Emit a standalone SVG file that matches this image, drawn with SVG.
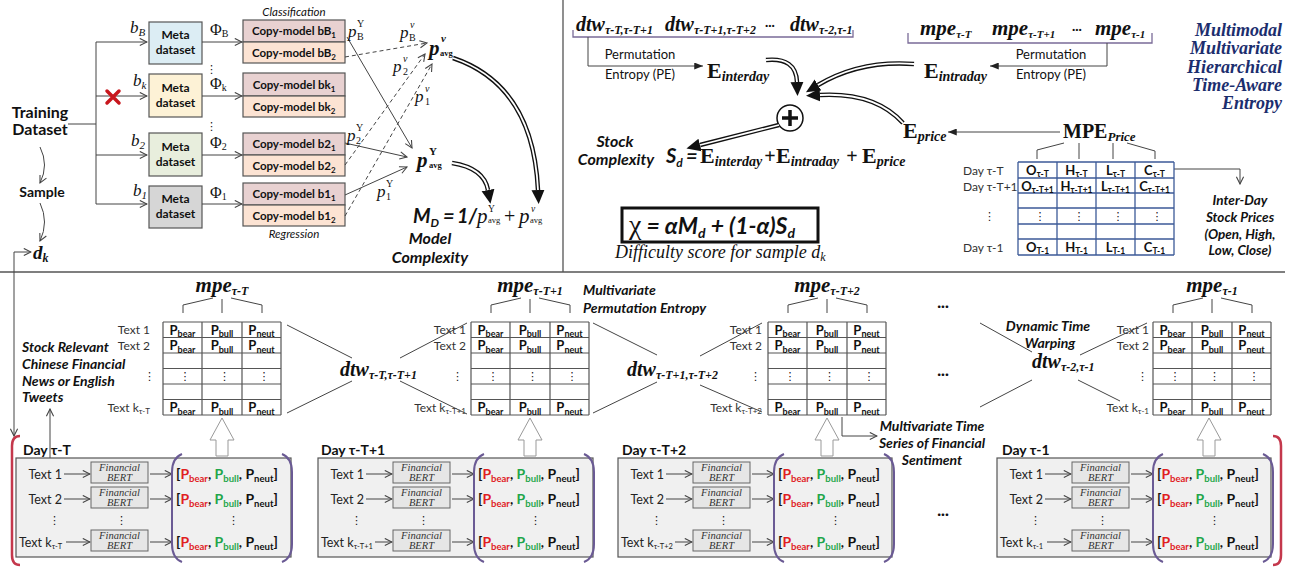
<svg xmlns="http://www.w3.org/2000/svg" width="1301" height="570" viewBox="0 0 1301 570">
<defs>
<style>
text{font-family:Lato,"Liberation Sans",sans-serif;fill:#111}
.sr{font-family:"Liberation Serif","Times New Roman",serif}
.b{font-weight:bold}
.i{font-style:italic}
.bi{font-weight:bold;font-style:italic}
.ln{fill:none;stroke:#444;stroke-width:1}
.dash{fill:none;stroke:#444;stroke-width:1;stroke-dasharray:4 3}
.dl{fill:none;stroke:#111;stroke-width:4.5}
.dw{fill:none;stroke:#fff;stroke-width:1.8}
.box{stroke:#555;stroke-width:1.2}
.grid{fill:none;stroke:#555;stroke-width:1.2}
.bgrid{fill:none;stroke:#3c5a98;stroke-width:1.3}
.lbl{font-size:12px;fill:#333}
.cp{font-weight:bold;font-size:13px}
.mpe{font-family:"Liberation Serif",serif;font-weight:bold;font-style:italic;font-size:21px}
.dtw{font-family:"Liberation Serif",serif;font-weight:bold;font-style:italic;font-size:20px}
.bert{fill:#e6e6e6;stroke:#666;stroke-width:1}
.bt{font-family:"Liberation Serif",serif;font-style:italic;font-size:10.5px;fill:#333}
.day{fill:#f0f0f0;stroke:#555;stroke-width:1.2}
.par{fill:none;stroke:#6a5a94;stroke-width:2}
.red{fill:none;stroke:#c4384c;stroke-width:2.5}
.hol{fill:#fff;stroke:#999;stroke-width:1}
.r{fill:#e0201f}
.g{fill:#1fa64a}
.vd{font-family:"DejaVu Sans",sans-serif;font-size:11px}
.ttl{font-family:"Liberation Serif",serif;font-weight:bold;font-style:italic;font-size:18px;fill:#1c2e6e}
.cm{font-weight:bold;font-size:11.5px}
.meta{font-weight:bold;font-size:12px}
.tx{font-size:12.5px;fill:#222}
</style>
<marker id="oa" viewBox="0 0 10 10" refX="9" refY="5" markerWidth="9" markerHeight="9" markerUnits="userSpaceOnUse" orient="auto"><path d="M1,1 L9,5 L1,9" fill="none" stroke="#444" stroke-width="1.2"/></marker>
<marker id="fa" viewBox="0 0 10 8" refX="10" refY="4" markerWidth="9" markerHeight="7" markerUnits="userSpaceOnUse" orient="auto"><path d="M0,0 L10,4 L0,8z" fill="#222"/></marker>
<marker id="da" viewBox="0 -7 14 14" refX="0" refY="0" markerWidth="14" markerHeight="14" markerUnits="userSpaceOnUse" orient="auto"><path d="M0,-6.5 L14,0 L0,6.5z" fill="#111"/></marker>
</defs>
<rect width="1301" height="570" fill="#fff"/>

<g id="dividers"><path d="M563,0V272M0,272H1285" stroke="#555" stroke-width="1.3" fill="none"/></g>

<!-- ============ TOP LEFT: model complexity ============ -->
<g id="training-dataset">
<text class="b" x="40" y="118" text-anchor="middle" font-size="16">Training</text>
<text class="b" x="40" y="135" text-anchor="middle" font-size="16">Dataset</text>
</g>
<g id="sample"><text class="b" x="42" y="197" text-anchor="middle" font-size="14">Sample</text></g>
<g id="dk"><text class="sr bi" x="33" y="259" font-size="19">d<tspan font-size="12" dy="3">k</tspan></text></g>

<g id="meta-B"><rect class="box" x="149" y="22" width="53" height="42" fill="#dcedf4"/><text class="meta" x="175.5" y="39" text-anchor="middle">Meta</text><text class="meta" x="175.5" y="54" text-anchor="middle">dataset</text></g>
<g id="meta-k"><rect class="box" x="149" y="74" width="53" height="43" fill="#fdf2d6"/><text class="meta" x="175.5" y="92" text-anchor="middle">Meta</text><text class="meta" x="175.5" y="107" text-anchor="middle">dataset</text></g>
<g id="meta-2"><rect class="box" x="149" y="133" width="53" height="43" fill="#e8eedd"/><text class="meta" x="175.5" y="151" text-anchor="middle">Meta</text><text class="meta" x="175.5" y="166" text-anchor="middle">dataset</text></g>
<g id="meta-1"><rect class="box" x="149" y="186" width="53" height="42" fill="#d6d6d6"/><text class="meta" x="175.5" y="203" text-anchor="middle">Meta</text><text class="meta" x="175.5" y="218" text-anchor="middle">dataset</text></g>

<g id="copy-B"><rect class="box" x="243" y="20" width="102" height="22" fill="#e8d1d1"/><rect class="box" x="243" y="42" width="102" height="21" fill="#fce3d3"/>
<text class="cm" x="294" y="35" text-anchor="middle">Copy-model bB<tspan font-size="8" dy="3">1</tspan></text>
<text class="cm" x="294" y="56.5" text-anchor="middle">Copy-model bB<tspan font-size="8" dy="3">2</tspan></text></g>
<g id="copy-k"><rect class="box" x="243" y="73" width="102" height="23" fill="#e8d1d1"/><rect class="box" x="243" y="96" width="102" height="21" fill="#fce3d3"/>
<text class="cm" x="294" y="88.5" text-anchor="middle">Copy-model bk<tspan font-size="8" dy="3">1</tspan></text>
<text class="cm" x="294" y="110.5" text-anchor="middle">Copy-model bk<tspan font-size="8" dy="3">2</tspan></text></g>
<g id="copy-2"><rect class="box" x="243" y="133" width="102" height="22" fill="#e8d1d1"/><rect class="box" x="243" y="155" width="102" height="21" fill="#fce3d3"/>
<text class="cm" x="294" y="148" text-anchor="middle">Copy-model b2<tspan font-size="8" dy="3">1</tspan></text>
<text class="cm" x="294" y="169.5" text-anchor="middle">Copy-model b2<tspan font-size="8" dy="3">2</tspan></text></g>
<g id="copy-1"><rect class="box" x="243" y="183" width="102" height="22" fill="#e8d1d1"/><rect class="box" x="243" y="205" width="102" height="21" fill="#fce3d3"/>
<text class="cm" x="294" y="198" text-anchor="middle">Copy-model b1<tspan font-size="8" dy="3">1</tspan></text>
<text class="cm" x="294" y="219.5" text-anchor="middle">Copy-model b1<tspan font-size="8" dy="3">2</tspan></text></g>
<g id="task-labels">
<text class="i" x="294" y="16" text-anchor="middle" font-size="11.5" fill="#333">Classification</text>
<text class="i" x="294" y="238" text-anchor="middle" font-size="11.5" fill="#333">Regression</text>
</g>

<g id="connectors-model">
<path class="ln" d="M68,124H96M96,42V204"/>
<path class="ln" d="M96,42H147" marker-end="url(#oa)"/>
<path class="ln" d="M96,96H147" marker-end="url(#oa)"/>
<path class="ln" d="M96,155H147" marker-end="url(#oa)"/>
<path class="ln" d="M96,204H147" marker-end="url(#oa)"/>
<path class="ln" d="M202,42H242" marker-end="url(#oa)"/>
<path class="ln" d="M202,96H242" marker-end="url(#oa)"/>
<path class="ln" d="M202,155H242" marker-end="url(#oa)"/>
<path class="ln" d="M202,204H242" marker-end="url(#oa)"/>
<path class="ln" d="M40,147Q49,165 40,183" marker-end="url(#oa)"/>
<path class="ln" d="M40,203Q49,222 40,241" marker-end="url(#oa)"/>
<path class="ln" d="M14,252V436" marker-end="url(#oa)"/>
<path class="ln" d="M14,252H31" marker-end="url(#oa)"/>
<path class="ln" d="M347,37L412,148" marker-end="url(#oa)"/>
<path class="ln" d="M345,143L407,157" marker-end="url(#oa)"/>
<path class="ln" d="M345,195L407,167" marker-end="url(#oa)"/>
<path class="dash" d="M345,57L427,43" marker-end="url(#oa)"/>
<path class="dash" d="M345,165L425,54" marker-end="url(#oa)"/>
<path class="dash" d="M345,216L432,64" marker-end="url(#oa)"/>
<path class="dl" d="M452,163Q484,168 488,190" marker-end="url(#da)"/>
<path class="dw" d="M452,163Q484,168 488,190"/>
<path class="dl" d="M453,58Q533,85 538,190" marker-end="url(#da)"/>
<path class="dw" d="M453,58Q533,85 538,190"/>
</g>
<g id="drop-mark"><path d="M107,91L119,103M119,91L107,103" stroke="#c8161d" stroke-width="3.5" stroke-linecap="round"/></g>

<g id="branch-labels">
<text class="sr i" x="130" y="33" font-size="17">b<tspan font-size="11" dy="3">B</tspan></text>
<text class="sr i" x="133" y="86" font-size="17">b<tspan font-size="11" dy="3">k</tspan></text>
<text class="sr i" x="131" y="146" font-size="17">b<tspan font-size="11" dy="3">2</tspan></text>
<text class="sr i" x="133" y="196" font-size="17">b<tspan font-size="11" dy="3">1</tspan></text>
<text class="sr" x="210" y="35" font-size="16">Φ<tspan font-size="10" dy="2">B</tspan></text>
<text class="sr" x="210" y="89" font-size="16">Φ<tspan font-size="10" dy="2">k</tspan></text>
<text class="sr" x="210" y="148" font-size="16">Φ<tspan font-size="10" dy="2">2</tspan></text>
<text class="sr" x="210" y="198" font-size="16">Φ<tspan font-size="10" dy="2">1</tspan></text>
<text class="vd" x="206" y="73">⋮</text>
<text class="vd" x="206" y="130">⋮</text>
</g>

<g id="prob-labels">
<text class="sr i" x="348" y="37" font-size="17">p</text><text class="sr" x="357" y="27" font-size="10">Y</text><text class="sr" x="357" y="40" font-size="10">B</text>
<text class="sr i" x="400" y="38" font-size="17">p</text><text class="sr i" x="410" y="28" font-size="10">v</text><text class="sr" x="409" y="41" font-size="10">B</text>
<text class="sr i" x="393" y="72" font-size="17">p</text><text class="sr i" x="403" y="62" font-size="10">v</text><text class="sr" x="403" y="75" font-size="10">2</text>
<text class="sr i" x="415" y="102" font-size="17">p</text><text class="sr i" x="425" y="92" font-size="10">v</text><text class="sr" x="425" y="105" font-size="10">1</text>
<text class="sr i" x="347" y="141" font-size="17">p</text><text class="sr" x="356" y="131" font-size="10">Y</text><text class="sr" x="356" y="144" font-size="10">2</text>
<text class="sr i" x="377" y="197" font-size="17">p</text><text class="sr" x="386" y="187" font-size="10">Y</text><text class="sr" x="386" y="200" font-size="10">1</text>
</g>
<g id="p-avg-v"><text class="sr bi" x="429" y="55" font-size="21">p</text><text class="sr bi" x="441" y="42" font-size="11">v</text><text class="sr b" x="440" y="56" font-size="8.5">avg</text></g>
<g id="p-avg-Y"><text class="sr bi" x="417" y="167" font-size="21">p</text><text class="sr b" x="429" y="155" font-size="11">Y</text><text class="sr b" x="429" y="168" font-size="8.5">avg</text></g>

<g id="model-complexity">
<text class="bi" x="413" y="223" font-size="20">M<tspan font-size="12" dy="4">D</tspan></text>
<text class="bi" x="443" y="223" font-size="20">=</text>
<text class="bi" x="457" y="223" font-size="20">1/</text>
<text class="sr i" x="477" y="223" font-size="21">p</text><text class="sr" x="488" y="212" font-size="9.5">Y</text><text class="sr" x="488" y="223" font-size="8.5">avg</text>
<text class="sr" x="504" y="223" font-size="20">+</text>
<text class="sr i" x="519" y="223" font-size="21">p</text><text class="sr i" x="531" y="212" font-size="9.5">v</text><text class="sr" x="530" y="223" font-size="8.5">avg</text>
<text class="bi" x="430" y="244" text-anchor="middle" font-size="16">Model</text>
<text class="bi" x="430" y="263" text-anchor="middle" font-size="16">Complexity</text>
</g>

<!-- ============ TOP RIGHT: stock complexity ============ -->
<g id="dtw-series">
<path d="M573,30V37H853V30" fill="none" stroke="#7a6b98" stroke-width="1.3"/>
<text class="dtw" x="576" y="31">dtw<tspan font-size="12" dy="3">τ-T,τ-T+1</tspan></text>
<text class="dtw" x="665" y="31">dtw<tspan font-size="12" dy="3">τ-T+1,τ-T+2</tspan></text>
<text class="b" x="765" y="29" font-size="12">···</text>
<text class="dtw" x="790" y="31">dtw<tspan font-size="12" dy="3">τ-2,τ-1</tspan></text>
</g>
<g id="mpe-series">
<path d="M908,33V43H1152V33" fill="none" stroke="#7a6b98" stroke-width="1.3"/>
<text class="mpe" x="920" y="35">mpe<tspan font-size="11" dy="3">τ-T</tspan></text>
<text class="mpe" x="992" y="35">mpe<tspan font-size="11" dy="3">τ-T+1</tspan></text>
<text class="b" x="1072" y="33" font-size="12">···</text>
<text class="mpe" x="1095" y="35">mpe<tspan font-size="11" dy="3">τ-1</tspan></text>
</g>
<g id="pe-labels">
<text x="640" y="59" text-anchor="middle" font-size="13" fill="#222">Permutation</text>
<text x="640" y="79" text-anchor="middle" font-size="13" fill="#222">Entropy (PE)</text>
<text x="1051" y="59" text-anchor="middle" font-size="13" fill="#222">Permutation</text>
<text x="1051" y="79" text-anchor="middle" font-size="13" fill="#222">Entropy (PE)</text>
</g>
<g id="e-interday"><text class="sr" x="707" y="78"><tspan class="b" font-size="22">E</tspan><tspan class="bi" font-size="14" dy="3">interday</tspan></text></g>
<g id="e-intraday"><text class="sr" x="924" y="78"><tspan class="b" font-size="22">E</tspan><tspan class="bi" font-size="14" dy="3">intraday</tspan></text></g>
<g id="e-price"><text class="sr" x="903" y="138"><tspan class="b" font-size="22">E</tspan><tspan class="bi" font-size="14" dy="3">price</tspan></text></g>
<g id="mpe-price"><text class="sr" x="1063" y="138"><tspan class="b" font-size="20">MPE</tspan><tspan class="bi" font-size="13" dy="3">Price</tspan></text></g>
<g id="plus"><circle cx="790" cy="118" r="13" fill="#fff" stroke="#111" stroke-width="1.5"/><path d="M782,118H798M790,110V126" stroke="#111" stroke-width="3.5"/></g>

<g id="connectors-stock">
<path class="ln" d="M588,37V66H703" marker-end="url(#fa)"/>
<path class="ln" d="M1107,43V66H990" marker-end="url(#fa)"/>
<path class="ln" d="M1060,132H948" marker-end="url(#fa)"/>
<path class="dl" d="M766,60Q796,57 797,82" marker-end="url(#da)"/>
<path class="dw" d="M766,60Q796,57 797,82"/>
<path class="dl" d="M914,64Q860,60 818,85" marker-end="url(#da)"/>
<path class="dw" d="M914,64Q860,60 818,85"/>
<path class="dl" d="M903,123Q875,92 820,95" marker-end="url(#da)"/>
<path class="dw" d="M903,123Q875,92 820,95"/>
<path class="dl" d="M779,125L700,145" marker-end="url(#da)"/>
<path class="dw" d="M779,125L700,145"/>
<path class="ln" d="M1064,143L1037,150V159M1079,143V159M1113,143V159M1127,143L1155,151V159"/>
<path class="ln" d="M1174,169H1240V184" marker-end="url(#oa)"/>
</g>

<g id="stock-complexity">
<text class="bi" x="615" y="147" text-anchor="middle" font-size="16">Stock</text>
<text class="bi" x="616" y="165" text-anchor="middle" font-size="16">Complexity</text>
<text class="bi" x="666" y="163" font-size="20">S<tspan font-size="12" dy="4">d</tspan></text>
<text class="bi" x="686" y="163" font-size="20">=</text>
<text class="sr" x="700" y="163"><tspan class="b" font-size="22">E</tspan><tspan class="bi" font-size="14" dy="3">interday</tspan></text>
<text class="sr b" x="770" y="163" text-anchor="middle" font-size="20">+</text>
<text class="sr" x="776" y="163"><tspan class="b" font-size="22">E</tspan><tspan class="bi" font-size="14" dy="3">intraday</tspan></text>
<text class="sr b" x="852" y="163" text-anchor="middle" font-size="20">+</text>
<text class="sr" x="862" y="163"><tspan class="b" font-size="22">E</tspan><tspan class="bi" font-size="14" dy="3">price</tspan></text>
</g>

<g id="difficulty">
<rect x="622" y="208" width="196" height="34" fill="#fff" stroke="#111" stroke-width="3"/>
<text class="bi" x="629" y="234" font-size="23"><tspan class="sr" font-style="normal" font-weight="normal" font-size="28">χ</tspan><tspan> = αM</tspan><tspan font-size="14" dy="4">d</tspan><tspan dy="-4"> + (1-α)S</tspan><tspan font-size="14" dy="4">d</tspan></text>
<text class="sr i" x="615" y="258" font-size="18" fill="#2b3a8c">Difficulty score for sample d<tspan font-size="12" dy="3">k</tspan></text>
</g>

<g id="title">
<text class="ttl" x="1282" y="36" text-anchor="end">Multimodal</text>
<text class="ttl" x="1282" y="54" text-anchor="end">Multivariate</text>
<text class="ttl" x="1282" y="73" text-anchor="end">Hierarchical</text>
<text class="ttl" x="1282" y="91" text-anchor="end">Time-Aware</text>
<text class="ttl" x="1282" y="109" text-anchor="end">Entropy</text>
</g>

<g id="price-table">
<rect x="1018" y="162" width="156" height="93" fill="#fff"/>
<path class="bgrid" d="M1018,162H1174M1018,178H1174M1018,193H1174M1018,208H1174M1018,224H1174M1018,239H1174M1018,255H1174M1018,162V255M1057,162V255M1096,162V255M1135,162V255M1174,162V255"/>
<text class="lbl" x="963" y="175">Day τ-T</text>
<text class="lbl" x="963" y="191">Day τ-T+1</text>
<text class="vd" x="984" y="220">⋮</text>
<text class="lbl" x="963" y="252">Day τ-1</text>
<text class="cp" x="1037.5" y="175" text-anchor="middle">O<tspan font-size="8.5" dy="2">τ-T</tspan></text>
<text class="cp" x="1076.5" y="175" text-anchor="middle">H<tspan font-size="8.5" dy="2">τ-T</tspan></text>
<text class="cp" x="1115.5" y="175" text-anchor="middle">L<tspan font-size="8.5" dy="2">τ-T</tspan></text>
<text class="cp" x="1154.5" y="175" text-anchor="middle">C<tspan font-size="8.5" dy="2">τ-T</tspan></text>
<text class="cp" x="1037.5" y="191" text-anchor="middle">O<tspan font-size="8.5" dy="2">τ-T+1</tspan></text>
<text class="cp" x="1076.5" y="191" text-anchor="middle">H<tspan font-size="8.5" dy="2">τ-T+1</tspan></text>
<text class="cp" x="1115.5" y="191" text-anchor="middle">L<tspan font-size="8.5" dy="2">τ-T+1</tspan></text>
<text class="cp" x="1154.5" y="191" text-anchor="middle">C<tspan font-size="8.5" dy="2">τ-T+1</tspan></text>
<text class="vd" x="1034.5" y="220">⋮</text><text class="vd" x="1073.5" y="220">⋮</text><text class="vd" x="1112.5" y="220">⋮</text><text class="vd" x="1151.5" y="220">⋮</text>
<text class="cp" x="1037.5" y="252" text-anchor="middle">O<tspan font-size="8.5" dy="2">T-1</tspan></text>
<text class="cp" x="1076.5" y="252" text-anchor="middle">H<tspan font-size="8.5" dy="2">T-1</tspan></text>
<text class="cp" x="1115.5" y="252" text-anchor="middle">L<tspan font-size="8.5" dy="2">T-1</tspan></text>
<text class="cp" x="1154.5" y="252" text-anchor="middle">C<tspan font-size="8.5" dy="2">T-1</tspan></text>
</g>
<g id="price-label">
<text class="bi" x="1240" y="205" text-anchor="middle" font-size="13.5">Inter-Day</text>
<text class="bi" x="1240" y="222" text-anchor="middle" font-size="13.5">Stock Prices</text>
<text class="bi" x="1240" y="239" text-anchor="middle" font-size="13.5">(Open, High,</text>
<text class="bi" x="1240" y="255" text-anchor="middle" font-size="13.5">Low, Close)</text>
</g>

<!-- ============ BOTTOM: sentiment tables ============ -->
<g id="news-label">
<text class="bi" x="22" y="352" font-size="14">Stock Relevant</text>
<text class="bi" x="22" y="369" font-size="14">Chinese Financial</text>
<text class="bi" x="22" y="386" font-size="14">News or English</text>
<text class="bi" x="22" y="402" font-size="14">Tweets</text>
</g>
<g id="mpe-label"><text class="bi" x="583" y="295" font-size="14">Multivariate</text><text class="bi" x="583" y="313" font-size="14">Permutation Entropy</text></g>
<g id="dtw-label"><text class="bi" x="1048" y="331" text-anchor="middle" font-size="14">Dynamic Time</text><text class="bi" x="1050" y="348" text-anchor="middle" font-size="14">Warping</text></g>
<g id="series-label"><text class="bi" x="932" y="431" text-anchor="middle" font-size="14">Multivariate Time</text><text class="bi" x="932" y="448" text-anchor="middle" font-size="14">Series of Financial</text><text class="bi" x="932" y="465" text-anchor="middle" font-size="14">Sentiment</text></g>

<g id="table-1" transform="translate(163,0)">
<text class="mpe" x="59" y="292" text-anchor="middle">mpe<tspan font-size="12" dy="3">τ-T</tspan></text>
<path class="ln" d="M50,298L20,305V313M59,299V313M68,298L99,305V313"/>
<rect x="0" y="322" width="118" height="93" fill="#fff"/>
<path class="grid" d="M0,322H118M0,337.5H118M0,353H118M0,368.5H118M0,384H118M0,399.5H118M0,415H118M0,322V415M39,322V415M79,322V415M118,322V415"/>
<text class="lbl" x="-13" y="334" text-anchor="end">Text 1</text>
<text class="lbl" x="-13" y="349.5" text-anchor="end">Text 2</text>
<text class="vd" x="-19" y="380">⋮</text>
<text class="lbl" x="-13" y="411.5" text-anchor="end">Text k<tspan font-size="8" dy="2">τ-T</tspan></text>
<text class="cp" x="19.5" y="334.5" text-anchor="middle">P<tspan font-size="9" dy="2.5">bear</tspan></text><text class="cp" x="59" y="334.5" text-anchor="middle">P<tspan font-size="9" dy="2.5">bull</tspan></text><text class="cp" x="98.5" y="334.5" text-anchor="middle">P<tspan font-size="9" dy="2.5">neut</tspan></text>
<text class="cp" x="19.5" y="350" text-anchor="middle">P<tspan font-size="9" dy="2.5">bear</tspan></text><text class="cp" x="59" y="350" text-anchor="middle">P<tspan font-size="9" dy="2.5">bull</tspan></text><text class="cp" x="98.5" y="350" text-anchor="middle">P<tspan font-size="9" dy="2.5">neut</tspan></text>
<text class="vd" x="16.5" y="380">⋮</text><text class="vd" x="56" y="380">⋮</text><text class="vd" x="95.5" y="380">⋮</text>
<text class="cp" x="19.5" y="412" text-anchor="middle">P<tspan font-size="9" dy="2.5">bear</tspan></text><text class="cp" x="59" y="412" text-anchor="middle">P<tspan font-size="9" dy="2.5">bull</tspan></text><text class="cp" x="98.5" y="412" text-anchor="middle">P<tspan font-size="9" dy="2.5">neut</tspan></text>
</g>
<g id="table-2" transform="translate(471,0)">
<text class="mpe" x="59" y="292" text-anchor="middle">mpe<tspan font-size="12" dy="3">τ-T+1</tspan></text>
<path class="ln" d="M50,298L20,305V313M59,299V313M68,298L99,305V313"/>
<rect x="0" y="322" width="118" height="93" fill="#fff"/>
<path class="grid" d="M0,322H118M0,337.5H118M0,353H118M0,368.5H118M0,384H118M0,399.5H118M0,415H118M0,322V415M39,322V415M79,322V415M118,322V415"/>
<text class="lbl" x="-5" y="334" text-anchor="end">Text 1</text>
<text class="lbl" x="-5" y="349.5" text-anchor="end">Text 2</text>
<text class="vd" x="-19" y="380">⋮</text>
<text class="lbl" x="-5" y="411.5" text-anchor="end">Text k<tspan font-size="8" dy="2">τ-T+1</tspan></text>
<text class="cp" x="19.5" y="334.5" text-anchor="middle">P<tspan font-size="9" dy="2.5">bear</tspan></text><text class="cp" x="59" y="334.5" text-anchor="middle">P<tspan font-size="9" dy="2.5">bull</tspan></text><text class="cp" x="98.5" y="334.5" text-anchor="middle">P<tspan font-size="9" dy="2.5">neut</tspan></text>
<text class="cp" x="19.5" y="350" text-anchor="middle">P<tspan font-size="9" dy="2.5">bear</tspan></text><text class="cp" x="59" y="350" text-anchor="middle">P<tspan font-size="9" dy="2.5">bull</tspan></text><text class="cp" x="98.5" y="350" text-anchor="middle">P<tspan font-size="9" dy="2.5">neut</tspan></text>
<text class="vd" x="16.5" y="380">⋮</text><text class="vd" x="56" y="380">⋮</text><text class="vd" x="95.5" y="380">⋮</text>
<text class="cp" x="19.5" y="412" text-anchor="middle">P<tspan font-size="9" dy="2.5">bear</tspan></text><text class="cp" x="59" y="412" text-anchor="middle">P<tspan font-size="9" dy="2.5">bull</tspan></text><text class="cp" x="98.5" y="412" text-anchor="middle">P<tspan font-size="9" dy="2.5">neut</tspan></text>
</g>
<g id="table-3" transform="translate(768,0)">
<text class="mpe" x="59" y="292" text-anchor="middle">mpe<tspan font-size="12" dy="3">τ-T+2</tspan></text>
<path class="ln" d="M50,298L20,305V313M59,299V313M68,298L99,305V313"/>
<rect x="0" y="322" width="118" height="93" fill="#fff"/>
<path class="grid" d="M0,322H118M0,337.5H118M0,353H118M0,368.5H118M0,384H118M0,399.5H118M0,415H118M0,322V415M39,322V415M79,322V415M118,322V415"/>
<text class="lbl" x="-6" y="334" text-anchor="end">Text 1</text>
<text class="lbl" x="-6" y="349.5" text-anchor="end">Text 2</text>
<text class="vd" x="-18" y="380">⋮</text>
<text class="lbl" x="-6" y="411.5" text-anchor="end">Text k<tspan font-size="8" dy="2">τ-T+2</tspan></text>
<text class="cp" x="19.5" y="334.5" text-anchor="middle">P<tspan font-size="9" dy="2.5">bear</tspan></text><text class="cp" x="59" y="334.5" text-anchor="middle">P<tspan font-size="9" dy="2.5">bull</tspan></text><text class="cp" x="98.5" y="334.5" text-anchor="middle">P<tspan font-size="9" dy="2.5">neut</tspan></text>
<text class="cp" x="19.5" y="350" text-anchor="middle">P<tspan font-size="9" dy="2.5">bear</tspan></text><text class="cp" x="59" y="350" text-anchor="middle">P<tspan font-size="9" dy="2.5">bull</tspan></text><text class="cp" x="98.5" y="350" text-anchor="middle">P<tspan font-size="9" dy="2.5">neut</tspan></text>
<text class="vd" x="16.5" y="380">⋮</text><text class="vd" x="56" y="380">⋮</text><text class="vd" x="95.5" y="380">⋮</text>
<text class="cp" x="19.5" y="412" text-anchor="middle">P<tspan font-size="9" dy="2.5">bear</tspan></text><text class="cp" x="59" y="412" text-anchor="middle">P<tspan font-size="9" dy="2.5">bull</tspan></text><text class="cp" x="98.5" y="412" text-anchor="middle">P<tspan font-size="9" dy="2.5">neut</tspan></text>
</g>
<g id="table-4" transform="translate(1153,0)">
<text class="mpe" x="59" y="292" text-anchor="middle">mpe<tspan font-size="12" dy="3">τ-1</tspan></text>
<path class="ln" d="M50,298L20,305V313M59,299V313M68,298L99,305V313"/>
<rect x="0" y="322" width="118" height="93" fill="#fff"/>
<path class="grid" d="M0,322H118M0,337.5H118M0,353H118M0,368.5H118M0,384H118M0,399.5H118M0,415H118M0,322V415M39,322V415M79,322V415M118,322V415"/>
<text class="lbl" x="-4" y="334" text-anchor="end">Text 1</text>
<text class="lbl" x="-4" y="349.5" text-anchor="end">Text 2</text>
<text class="vd" x="-16" y="380">⋮</text>
<text class="lbl" x="-4" y="411.5" text-anchor="end">Text k<tspan font-size="8" dy="2">τ-1</tspan></text>
<text class="cp" x="19.5" y="334.5" text-anchor="middle">P<tspan font-size="9" dy="2.5">bear</tspan></text><text class="cp" x="59" y="334.5" text-anchor="middle">P<tspan font-size="9" dy="2.5">bull</tspan></text><text class="cp" x="98.5" y="334.5" text-anchor="middle">P<tspan font-size="9" dy="2.5">neut</tspan></text>
<text class="cp" x="19.5" y="350" text-anchor="middle">P<tspan font-size="9" dy="2.5">bear</tspan></text><text class="cp" x="59" y="350" text-anchor="middle">P<tspan font-size="9" dy="2.5">bull</tspan></text><text class="cp" x="98.5" y="350" text-anchor="middle">P<tspan font-size="9" dy="2.5">neut</tspan></text>
<text class="vd" x="16.5" y="380">⋮</text><text class="vd" x="56" y="380">⋮</text><text class="vd" x="95.5" y="380">⋮</text>
<text class="cp" x="19.5" y="412" text-anchor="middle">P<tspan font-size="9" dy="2.5">bear</tspan></text><text class="cp" x="59" y="412" text-anchor="middle">P<tspan font-size="9" dy="2.5">bull</tspan></text><text class="cp" x="98.5" y="412" text-anchor="middle">P<tspan font-size="9" dy="2.5">neut</tspan></text>
</g>

<g id="dtw-nodes">
<text class="dtw" x="340" y="376">dtw<tspan font-size="12" dy="3">τ-T,τ-T+1</tspan></text>
<text class="dtw" x="627" y="376">dtw<tspan font-size="12" dy="3">τ-T+1,τ-T+2</tspan></text>
<text class="dtw" x="1032" y="368">dtw<tspan font-size="12" dy="3">τ-2,τ-1</tspan></text>
</g>
<g id="ellipses">
<text class="b" x="943" y="311" text-anchor="middle" font-size="14">···</text>
<text class="b" x="943" y="379" text-anchor="middle" font-size="14">···</text>
<text class="b" x="943" y="519" text-anchor="middle" font-size="14">···</text>
</g>

<g id="connectors-sentiment">
<path class="ln" d="M287,325L352,358M287,413L352,381M400,358L467,323M400,381L467,414"/>
<path class="ln" d="M593,323L657,355M593,413L657,382M700,356L762,323M700,385L762,412"/>
<path class="ln" d="M980,323L1032,352M980,407L1032,380M1080,355L1147,323M1078,380L1120,401"/>
<path class="ln" d="M842,417V436H877" marker-end="url(#oa)"/>
<path class="ln" d="M50,466V409" marker-end="url(#oa)"/>
<polygon class="hol" points="222,418 234,440 228,440 228,456 216,456 216,440 210,440"/>
<polygon class="hol" points="530,418 542,440 536,440 536,456 524,456 524,440 518,440"/>
<polygon class="hol" points="827,418 839,440 833,440 833,456 821,456 821,440 815,440"/>
<polygon class="hol" points="1209,418 1221,440 1215,440 1215,456 1203,456 1203,440 1197,440"/>
<path class="red" d="M20,436Q12,436 12,446V555Q12,565 20,565"/>
<path class="red" d="M1273,436Q1281,436 1281,446V555Q1281,565 1273,565"/>
</g>

<g id="day-1" transform="translate(16,0)">
<rect class="day" x="0" y="458" width="275" height="99"/>
<text class="b" x="7" y="455" font-size="14">Day τ-T</text>
<text class="tx" x="46" y="479" text-anchor="end">Text 1</text>
<text class="tx" x="46" y="504" text-anchor="end">Text 2</text>
<text class="tx" x="3" y="547">Text k<tspan font-size="7.5" dy="2">τ-T</tspan></text>
<path class="ln" d="M48,474H74" marker-end="url(#oa)"/><path class="ln" d="M48,499H74" marker-end="url(#oa)"/><path class="ln" d="M50,542H74" marker-end="url(#oa)"/>
<path class="ln" d="M134,474H156" marker-end="url(#oa)"/><path class="ln" d="M134,499H156" marker-end="url(#oa)"/><path class="ln" d="M134,542H156" marker-end="url(#oa)"/>
<rect class="bert" x="75" y="462" width="57" height="21"/><text class="bt" x="103.5" y="471" text-anchor="middle">Financial</text><text class="bt" x="103.5" y="481" text-anchor="middle">BERT</text>
<rect class="bert" x="75" y="487" width="57" height="21"/><text class="bt" x="103.5" y="496" text-anchor="middle">Financial</text><text class="bt" x="103.5" y="506" text-anchor="middle">BERT</text>
<rect class="bert" x="75" y="530" width="57" height="21"/><text class="bt" x="103.5" y="539" text-anchor="middle">Financial</text><text class="bt" x="103.5" y="549" text-anchor="middle">BERT</text>
<text class="vd" x="33" y="524">⋮</text><text class="vd" x="100" y="524">⋮</text><text class="vd" x="212" y="524">⋮</text>
<text class="b" x="160" y="479" font-size="14">[<tspan class="r">P</tspan><tspan class="r" font-size="9.5" dy="3">bear</tspan><tspan dy="-3">, </tspan><tspan class="g">P</tspan><tspan class="g" font-size="9.5" dy="3">bull</tspan><tspan dy="-3">, P</tspan><tspan font-size="9.5" dy="3">neut</tspan><tspan dy="-3">]</tspan></text>
<text class="b" x="160" y="504" font-size="14">[<tspan class="r">P</tspan><tspan class="r" font-size="9.5" dy="3">bear</tspan><tspan dy="-3">, </tspan><tspan class="g">P</tspan><tspan class="g" font-size="9.5" dy="3">bull</tspan><tspan dy="-3">, P</tspan><tspan font-size="9.5" dy="3">neut</tspan><tspan dy="-3">]</tspan></text>
<text class="b" x="160" y="547" font-size="14">[<tspan class="r">P</tspan><tspan class="r" font-size="9.5" dy="3">bear</tspan><tspan dy="-3">, </tspan><tspan class="g">P</tspan><tspan class="g" font-size="9.5" dy="3">bull</tspan><tspan dy="-3">, P</tspan><tspan font-size="9.5" dy="3">neut</tspan><tspan dy="-3">]</tspan></text>
<path class="par" d="M166,454Q156,458 156,472V544Q156,558 166,562"/>
<path class="par" d="M266,454Q276,458 276,472V544Q276,558 266,562"/>
</g>
<g id="day-2" transform="translate(318,0)">
<rect class="day" x="0" y="458" width="275" height="99"/>
<text class="b" x="3" y="455" font-size="14">Day τ-T+1</text>
<text class="tx" x="46" y="479" text-anchor="end">Text 1</text>
<text class="tx" x="46" y="504" text-anchor="end">Text 2</text>
<text class="tx" x="3" y="547">Text k<tspan font-size="7.5" dy="2">τ-T+1</tspan></text>
<path class="ln" d="M48,474H74" marker-end="url(#oa)"/><path class="ln" d="M48,499H74" marker-end="url(#oa)"/><path class="ln" d="M57,542H74" marker-end="url(#oa)"/>
<path class="ln" d="M134,474H156" marker-end="url(#oa)"/><path class="ln" d="M134,499H156" marker-end="url(#oa)"/><path class="ln" d="M134,542H156" marker-end="url(#oa)"/>
<rect class="bert" x="75" y="462" width="57" height="21"/><text class="bt" x="103.5" y="471" text-anchor="middle">Financial</text><text class="bt" x="103.5" y="481" text-anchor="middle">BERT</text>
<rect class="bert" x="75" y="487" width="57" height="21"/><text class="bt" x="103.5" y="496" text-anchor="middle">Financial</text><text class="bt" x="103.5" y="506" text-anchor="middle">BERT</text>
<rect class="bert" x="75" y="530" width="57" height="21"/><text class="bt" x="103.5" y="539" text-anchor="middle">Financial</text><text class="bt" x="103.5" y="549" text-anchor="middle">BERT</text>
<text class="vd" x="33" y="524">⋮</text><text class="vd" x="100" y="524">⋮</text><text class="vd" x="212" y="524">⋮</text>
<text class="b" x="160" y="479" font-size="14">[<tspan class="r">P</tspan><tspan class="r" font-size="9.5" dy="3">bear</tspan><tspan dy="-3">, </tspan><tspan class="g">P</tspan><tspan class="g" font-size="9.5" dy="3">bull</tspan><tspan dy="-3">, P</tspan><tspan font-size="9.5" dy="3">neut</tspan><tspan dy="-3">]</tspan></text>
<text class="b" x="160" y="504" font-size="14">[<tspan class="r">P</tspan><tspan class="r" font-size="9.5" dy="3">bear</tspan><tspan dy="-3">, </tspan><tspan class="g">P</tspan><tspan class="g" font-size="9.5" dy="3">bull</tspan><tspan dy="-3">, P</tspan><tspan font-size="9.5" dy="3">neut</tspan><tspan dy="-3">]</tspan></text>
<text class="b" x="160" y="547" font-size="14">[<tspan class="r">P</tspan><tspan class="r" font-size="9.5" dy="3">bear</tspan><tspan dy="-3">, </tspan><tspan class="g">P</tspan><tspan class="g" font-size="9.5" dy="3">bull</tspan><tspan dy="-3">, P</tspan><tspan font-size="9.5" dy="3">neut</tspan><tspan dy="-3">]</tspan></text>
<path class="par" d="M166,454Q156,458 156,472V544Q156,558 166,562"/>
<path class="par" d="M266,454Q276,458 276,472V544Q276,558 266,562"/>
</g>
<g id="day-3" transform="translate(618,0)">
<rect class="day" x="0" y="458" width="274" height="99"/>
<text class="b" x="4" y="455" font-size="14">Day τ-T+2</text>
<text class="tx" x="46" y="479" text-anchor="end">Text 1</text>
<text class="tx" x="46" y="504" text-anchor="end">Text 2</text>
<text class="tx" x="3" y="547">Text k<tspan font-size="7.5" dy="2">τ-T+2</tspan></text>
<path class="ln" d="M48,474H74" marker-end="url(#oa)"/><path class="ln" d="M48,499H74" marker-end="url(#oa)"/><path class="ln" d="M57,542H74" marker-end="url(#oa)"/>
<path class="ln" d="M134,474H156" marker-end="url(#oa)"/><path class="ln" d="M134,499H156" marker-end="url(#oa)"/><path class="ln" d="M134,542H156" marker-end="url(#oa)"/>
<rect class="bert" x="75" y="462" width="57" height="21"/><text class="bt" x="103.5" y="471" text-anchor="middle">Financial</text><text class="bt" x="103.5" y="481" text-anchor="middle">BERT</text>
<rect class="bert" x="75" y="487" width="57" height="21"/><text class="bt" x="103.5" y="496" text-anchor="middle">Financial</text><text class="bt" x="103.5" y="506" text-anchor="middle">BERT</text>
<rect class="bert" x="75" y="530" width="57" height="21"/><text class="bt" x="103.5" y="539" text-anchor="middle">Financial</text><text class="bt" x="103.5" y="549" text-anchor="middle">BERT</text>
<text class="vd" x="33" y="524">⋮</text><text class="vd" x="100" y="524">⋮</text><text class="vd" x="212" y="524">⋮</text>
<text class="b" x="160" y="479" font-size="14">[<tspan class="r">P</tspan><tspan class="r" font-size="9.5" dy="3">bear</tspan><tspan dy="-3">, </tspan><tspan class="g">P</tspan><tspan class="g" font-size="9.5" dy="3">bull</tspan><tspan dy="-3">, P</tspan><tspan font-size="9.5" dy="3">neut</tspan><tspan dy="-3">]</tspan></text>
<text class="b" x="160" y="504" font-size="14">[<tspan class="r">P</tspan><tspan class="r" font-size="9.5" dy="3">bear</tspan><tspan dy="-3">, </tspan><tspan class="g">P</tspan><tspan class="g" font-size="9.5" dy="3">bull</tspan><tspan dy="-3">, P</tspan><tspan font-size="9.5" dy="3">neut</tspan><tspan dy="-3">]</tspan></text>
<text class="b" x="160" y="547" font-size="14">[<tspan class="r">P</tspan><tspan class="r" font-size="9.5" dy="3">bear</tspan><tspan dy="-3">, </tspan><tspan class="g">P</tspan><tspan class="g" font-size="9.5" dy="3">bull</tspan><tspan dy="-3">, P</tspan><tspan font-size="9.5" dy="3">neut</tspan><tspan dy="-3">]</tspan></text>
<path class="par" d="M166,454Q156,458 156,472V544Q156,558 166,562"/>
<path class="par" d="M266,454Q276,458 276,472V544Q276,558 266,562"/>
</g>
<g id="day-4" transform="translate(997,0)">
<rect class="day" x="0" y="458" width="274" height="99"/>
<text class="b" x="5" y="455" font-size="14">Day τ-1</text>
<text class="tx" x="46" y="479" text-anchor="end">Text 1</text>
<text class="tx" x="46" y="504" text-anchor="end">Text 2</text>
<text class="tx" x="3" y="547">Text k<tspan font-size="7.5" dy="2">τ-1</tspan></text>
<path class="ln" d="M48,474H74" marker-end="url(#oa)"/><path class="ln" d="M48,499H74" marker-end="url(#oa)"/><path class="ln" d="M50,542H74" marker-end="url(#oa)"/>
<path class="ln" d="M134,474H156" marker-end="url(#oa)"/><path class="ln" d="M134,499H156" marker-end="url(#oa)"/><path class="ln" d="M134,542H156" marker-end="url(#oa)"/>
<rect class="bert" x="75" y="462" width="57" height="21"/><text class="bt" x="103.5" y="471" text-anchor="middle">Financial</text><text class="bt" x="103.5" y="481" text-anchor="middle">BERT</text>
<rect class="bert" x="75" y="487" width="57" height="21"/><text class="bt" x="103.5" y="496" text-anchor="middle">Financial</text><text class="bt" x="103.5" y="506" text-anchor="middle">BERT</text>
<rect class="bert" x="75" y="530" width="57" height="21"/><text class="bt" x="103.5" y="539" text-anchor="middle">Financial</text><text class="bt" x="103.5" y="549" text-anchor="middle">BERT</text>
<text class="vd" x="33" y="524">⋮</text><text class="vd" x="100" y="524">⋮</text><text class="vd" x="212" y="524">⋮</text>
<text class="b" x="160" y="479" font-size="14">[<tspan class="r">P</tspan><tspan class="r" font-size="9.5" dy="3">bear</tspan><tspan dy="-3">, </tspan><tspan class="g">P</tspan><tspan class="g" font-size="9.5" dy="3">bull</tspan><tspan dy="-3">, P</tspan><tspan font-size="9.5" dy="3">neut</tspan><tspan dy="-3">]</tspan></text>
<text class="b" x="160" y="504" font-size="14">[<tspan class="r">P</tspan><tspan class="r" font-size="9.5" dy="3">bear</tspan><tspan dy="-3">, </tspan><tspan class="g">P</tspan><tspan class="g" font-size="9.5" dy="3">bull</tspan><tspan dy="-3">, P</tspan><tspan font-size="9.5" dy="3">neut</tspan><tspan dy="-3">]</tspan></text>
<text class="b" x="160" y="547" font-size="14">[<tspan class="r">P</tspan><tspan class="r" font-size="9.5" dy="3">bear</tspan><tspan dy="-3">, </tspan><tspan class="g">P</tspan><tspan class="g" font-size="9.5" dy="3">bull</tspan><tspan dy="-3">, P</tspan><tspan font-size="9.5" dy="3">neut</tspan><tspan dy="-3">]</tspan></text>
<path class="par" d="M166,454Q156,458 156,472V544Q156,558 166,562"/>
<path class="par" d="M266,454Q276,458 276,472V544Q276,558 266,562"/>
</g>
</svg>
